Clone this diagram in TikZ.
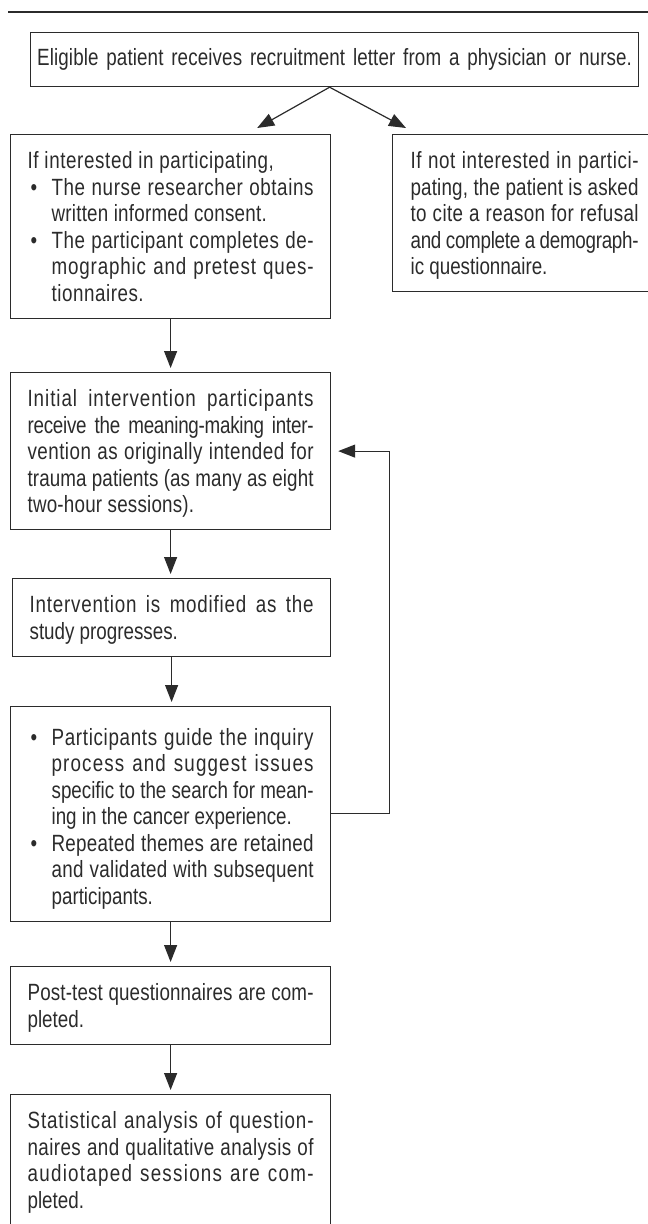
\documentclass[tikz,border=0pt]{standalone}
\usepackage{fontspec}
\setmainfont[FakeStretch=0.8]{Liberation Sans}
\usetikzlibrary{arrows.meta,calc}
\definecolor{inkgray}{HTML}{2B2B2B}
\setlength{\parindent}{0pt}
\newcommand{\boxfont}{\fontsize{23.5pt}{26.5pt}\selectfont\tolerance=10000\hyphenpenalty=10000\exhyphenpenalty=10000}
\newcommand{\topstrut}{\rule{0pt}{22pt}}
\newcommand{\botstrut}{\rule[-5pt]{0pt}{5pt}}
\newcommand{\ls}[2]{{\addfontfeatures{LetterSpace=#1}#2}}
\newcommand{\bulitem}{\par\leftskip=24pt\noindent\llap{\makebox[24pt][l]{\hspace{3pt}\textbullet}}}

\begin{document}
\begin{tikzpicture}[x=1pt, y=-1pt,
    stepbox/.style={draw=inkgray, line width=1.2pt, anchor=north west, align=justify, text width=286pt, inner xsep=17pt, inner ysep=12pt, font=\boxfont, text=inkgray},
    arr/.style={draw=inkgray, line width=1.2pt, -{Triangle[length=17pt,width=13pt]}, shorten >=4pt}]
    \useasboundingbox (0,0) rectangle (648,1224);
    \clip (0,0) rectangle (648,1224);
    \draw[inkgray, line width=2.5pt] (8,12) -- (648,12);

    \node[stepbox, align=center, text width=600pt, inner xsep=4pt, minimum height=54pt, inner ysep=0pt] (letter) at (30,32) {\ls{0.5}{Eligible patient receives recruitment letter from a physician or nurse.}};

    \node[stepbox] (consent) at (10,134) {\topstrut\ls{2.6}{If interested in participating,}
        \bulitem\ls{2.6}{The nurse researcher obtains}\linebreak \ls{1}{written informed consent.}
        \bulitem\ls{2.1}{The participant completes de-}\linebreak \ls{3.6}{mographic and pretest ques-}\linebreak \ls{2.3}{tionnaires.}\botstrut\par};
    \node[stepbox, text width=228pt, inner xsep=18pt] (refusal) at (392,134) {\topstrut\ls{2.5}{If not interested in partici-}\linebreak \ls{0.7}{pating, the patient is asked}\linebreak \ls{1.6}{to cite a reason for refusal}\linebreak \ls{-1.2}{and complete a demograph-}\linebreak ic questionnaire.\botstrut};

    \node[stepbox] (initial) at (10,372) {\topstrut\ls{4}{Initial intervention participants}\linebreak \ls{-1.1}{receive the meaning-making inter-}\linebreak \ls{2}{vention as originally intended for}\linebreak \ls{0.4}{trauma patients (as many as eight}\linebreak \ls{0.9}{two-hour sessions).}\botstrut};
    \node[stepbox, text width=284pt] (modified) at (12,578) {\topstrut\ls{3.4}{Intervention is modified as the}\linebreak study progresses.\botstrut};
    \node[stepbox] (themes) at (10,706) {\bulitem\topstrut\ls{2.9}{Participants guide the inquiry}\linebreak \ls{4.9}{process and suggest issues}\linebreak specific to the search for mean-\linebreak ing in the cancer experience.
        \bulitem\ls{1.2}{Repeated themes are retained}\linebreak \ls{1.3}{and validated with subsequent}\linebreak participants.\botstrut\par};
    \node[stepbox] (posttest) at (10,966) {\topstrut\ls{0.6}{Post-test questionnaires are com-}\linebreak pleted.\botstrut};
    \node[stepbox] (analysis) at (10,1094) {\topstrut\ls{3.7}{Statistical analysis of question-}\linebreak \ls{1.8}{naires and qualitative analysis of}\linebreak \ls{5.4}{audiotaped sessions are com-}\linebreak pleted.\rule[-20pt]{0pt}{20pt}};

    \coordinate (split) at ([xshift=-5pt]letter.south);
    \draw[arr, shorten >=0pt] (split) -- ([shift={(-74pt,6pt)}]consent.north east);
    \draw[arr, shorten >=0pt] (split) -- ([shift={(14pt,6pt)}]refusal.north west);
    \draw[arr] (consent) -- (initial);
    \draw[arr] (initial.south) -- (initial.south |- modified.north);
    \draw[arr] (modified.south) -- (modified.south |- themes.north);
    \draw[arr] (themes) -- (posttest);
    \draw[arr] (posttest) -- (analysis);
    \draw[arr, shorten >=7pt] (themes.east) -- ++(58pt,0) |- (initial.east);
\end{tikzpicture}
\end{document}
